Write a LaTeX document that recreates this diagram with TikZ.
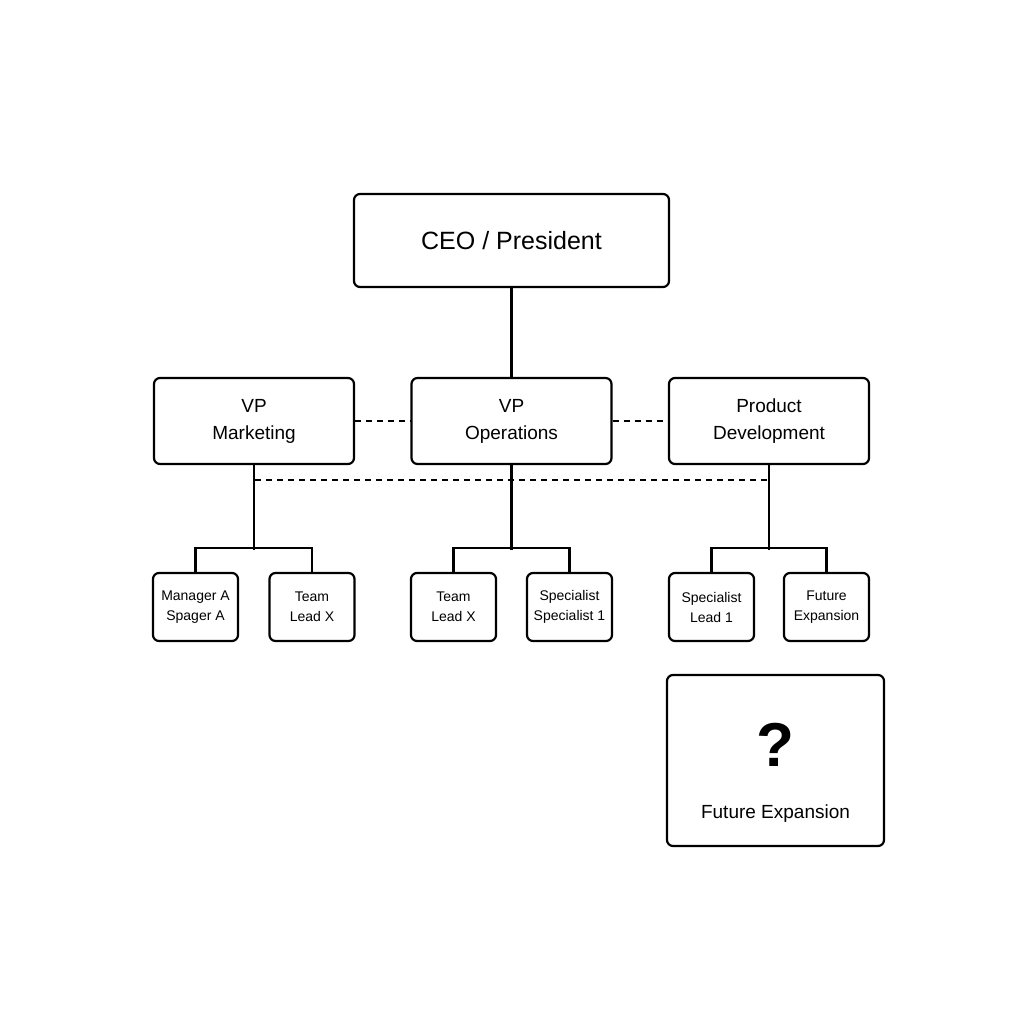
\documentclass[tikz,border=0pt]{standalone}
\usepackage{fontspec}
\setmainfont{Liberation Sans}
\begin{document}
\begin{tikzpicture}[x=1pt,y=-1pt,
  box/.style={draw,line width=2.2pt,rounded corners=6pt,align=center,inner sep=0pt},
  ln/.style={line width=2.2pt},
  dl/.style={line width=1.8pt,dash pattern=on 6pt off 5pt}]
\useasboundingbox[fill=white] (0,0) rectangle (1024,1024);
\node[box,minimum width=315pt,minimum height=93pt,font=\fontsize{25}{30}\selectfont] (ceo) at (511.5,240.5) {CEO / President};
\tikzset{vp/.style={box,minimum width=200pt,minimum height=86pt,font=\fontsize{19}{27}\selectfont}}
\node[vp] (mk) at (254,421) {VP\\Marketing};
\node[vp] (op) at (511.5,421) {VP\\Operations};
\node[vp] (pd) at (769,421) {Product\\Development};
\tikzset{sm/.style={box,minimum width=85pt,minimum height=68pt,font=\fontsize{14}{20}\selectfont}}
\node[sm] (s1) at (195.5,607) {Manager A\\Spager A};
\node[sm] (s2) at (312,607) {Team\\Lead X};
\node[sm] (s3) at (453.5,607) {Team\\Lead X};
\node[sm] (s4) at (569.5,607) {Specialist\\Specialist 1};
\node[sm] (s5) at (711.5,607) {Specialist\\Lead 1};
\node[sm] (s6) at (826.5,607) {Future\\Expansion};
\node[box,minimum width=217pt,minimum height=171pt] (fe) at (775.5,760.5) {};
\node[font=\fontsize{62}{62}\selectfont\bfseries] (q) at (775.5,745) {?};
\node[font=\fontsize{19}{22}\selectfont] (fl) at (775.5,814) {Future Expansion};
\draw[ln] (ceo.south) -- (op.north);
\draw[dl] (mk.east) -- (op.west);
\draw[dl] (op.east) -- (pd.west);
\coordinate (d1) at (255,480); \coordinate (d2) at (768,480);
\draw[dl] (d1) -- (d2);
\foreach \p/\a/\b in {mk/s1/s2,op/s3/s4,pd/s5/s6}{
  \draw[ln] (\p.south) -- ++(0,85);
  \draw[ln] (\a.north) -- ++(0,-24) -| (\b.north);
}
\end{tikzpicture}
\end{document}
